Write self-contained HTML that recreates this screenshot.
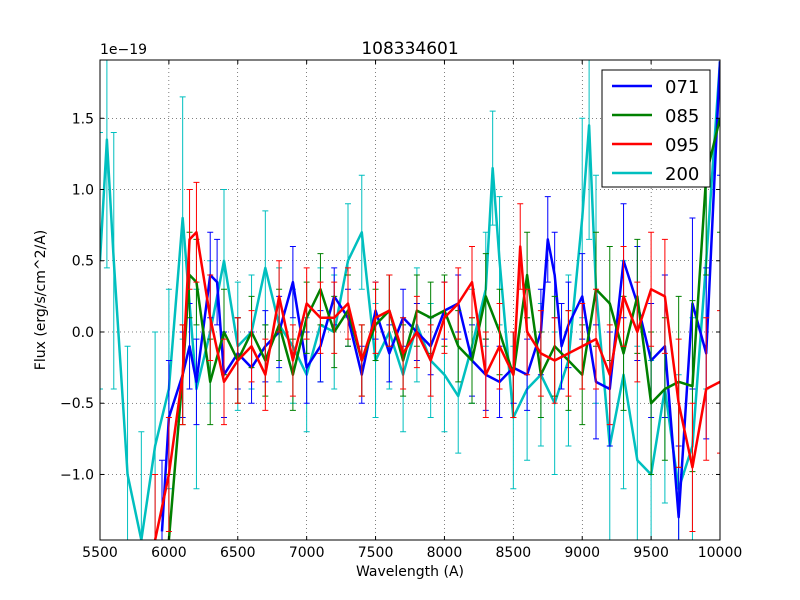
<!DOCTYPE html>
<html><head><meta charset="utf-8">
<style>
html,body{margin:0;padding:0;background:#fff;width:800px;height:600px;overflow:hidden;}
svg{display:block;font-family:"DejaVu Sans","Liberation Sans",sans-serif;}
</style></head>
<body>
<svg id="chart" width="800" height="600">
  <rect x="0" y="0" width="800" height="600" fill="#fff"/>
  <defs><clipPath id="clip"><rect x="100" y="60" width="620" height="480"/></clipPath></defs>
  <g id="grid"></g>
  <g id="series" clip-path="url(#clip)"></g>
  <rect x="100" y="60" width="620" height="480" fill="none" stroke="#000" stroke-width="1"/>
  <g id="ticks"></g>
  <text x="410" y="54" font-size="17" text-anchor="middle">108334601</text>
  <text x="100" y="54" font-size="14">1e−19</text>
  <text x="410" y="576" font-size="14" text-anchor="middle">Wavelength (A)</text>
  <text x="45" y="300" font-size="14" text-anchor="middle" transform="rotate(-90 45 300)">Flux (erg/s/cm^2/A)</text>
  <g id="legend">
    <rect x="602" y="70" width="108" height="117" fill="#fff" stroke="#000" stroke-width="1"/>
  </g>
</svg>
<script>
const xTicks=[5500,6000,6500,7000,7500,8000,8500,9000,9500,10000];
const yTicks=[-1.0,-0.5,0.0,0.5,1.0,1.5];
const yTickLabels=["−1.0","−0.5","0.0","0.5","1.0","1.5"];
const seriesNames=["071","085","095","200"];
const wl071=[5950,6000,6100,6150,6200,6300,6350,6400,6500,6600,6700,6800,6900,7000,7100,7200,7300,7400,7500,7600,7700,7800,7900,8000,8100,8200,8300,8400,8500,8600,8700,8750,8800,8850,8900,9000,9100,9200,9300,9400,9500,9600,9700,9800,9900,10000];
const flux071=[-1.4,-0.6,-0.3,-0.1,-0.35,0.4,0.35,-0.3,-0.15,-0.25,-0.1,0.0,0.35,-0.25,-0.1,0.25,0.1,-0.3,0.15,-0.15,0.1,0.0,-0.1,0.15,0.2,-0.2,-0.3,-0.35,-0.25,-0.3,0.0,0.65,0.4,-0.1,0.05,0.25,-0.35,-0.4,0.5,0.2,-0.2,-0.1,-1.3,0.2,-0.15,1.9];
const err071=[0.5,0.4,0.3,0.3,0.3,0.3,0.3,0.3,0.25,0.25,0.25,0.25,0.25,0.25,0.25,0.2,0.2,0.2,0.2,0.2,0.2,0.2,0.2,0.2,0.2,0.25,0.25,0.25,0.25,0.25,0.3,0.3,0.3,0.3,0.3,0.3,0.4,0.4,0.4,0.4,0.4,0.5,0.5,0.6,0.6,0.8];
const wl085=[6000,6100,6150,6200,6300,6400,6500,6600,6700,6800,6900,7000,7100,7200,7300,7400,7500,7600,7700,7800,7900,8000,8100,8200,8300,8400,8500,8600,8700,8800,8900,9000,9100,9200,9300,9400,9500,9600,9700,9800,9900,10000];
const flux085=[-1.5,-0.3,0.4,0.35,-0.35,0.0,-0.2,0.0,-0.2,0.05,-0.3,0.1,0.3,0.0,0.15,-0.2,0.05,0.15,-0.2,0.15,0.1,0.15,-0.1,-0.2,0.25,0.0,-0.3,0.4,-0.3,-0.1,-0.2,-0.3,0.3,0.2,-0.15,0.25,-0.5,-0.4,-0.35,-0.38,1.1,1.5];
const err085=[0.5,0.35,0.3,0.3,0.3,0.3,0.3,0.25,0.25,0.25,0.25,0.25,0.25,0.25,0.25,0.25,0.25,0.25,0.25,0.25,0.25,0.25,0.25,0.3,0.3,0.3,0.3,0.3,0.3,0.35,0.35,0.35,0.4,0.4,0.4,0.4,0.5,0.5,0.6,0.6,0.7,0.8];
const wl095=[5900,6000,6100,6150,6200,6300,6400,6500,6600,6700,6800,6900,7000,7100,7200,7300,7400,7500,7600,7700,7800,7900,8000,8100,8200,8300,8400,8500,8550,8600,8700,8800,8900,9000,9100,9200,9300,9400,9500,9600,9700,9800,9900,10000];
const flux095=[-1.5,-1.0,-0.3,0.65,0.7,0.1,-0.35,-0.2,-0.1,-0.3,0.25,-0.2,0.2,0.1,0.1,0.2,-0.2,0.1,0.15,-0.15,0.0,-0.2,0.1,0.2,0.35,-0.3,-0.1,-0.3,0.6,0.0,-0.15,-0.2,-0.15,-0.1,-0.05,-0.3,0.25,0.0,0.3,0.25,-0.5,-0.95,-0.4,-0.35];
const err095=[0.5,0.4,0.35,0.35,0.35,0.3,0.3,0.3,0.25,0.25,0.25,0.25,0.25,0.25,0.25,0.25,0.25,0.25,0.25,0.25,0.25,0.25,0.25,0.25,0.25,0.3,0.3,0.3,0.3,0.3,0.3,0.3,0.3,0.3,0.35,0.35,0.35,0.35,0.4,0.4,0.45,0.45,0.5,0.5];
const wl200=[5500,5550,5600,5700,5800,5900,6000,6100,6200,6300,6400,6500,6600,6700,6800,6900,7000,7100,7200,7300,7400,7500,7600,7700,7800,7900,8000,8100,8200,8300,8350,8400,8500,8600,8700,8800,8900,9000,9050,9100,9200,9300,9400,9500,9600,9700,9800,9900,10000];
const flux200=[0.5,1.35,0.5,-1.0,-1.6,-0.8,-0.4,0.8,-0.4,0.0,0.5,-0.1,0.0,0.45,0.05,-0.1,-0.3,0.05,0.0,0.5,0.7,-0.2,0.0,-0.3,0.05,-0.2,-0.3,-0.45,-0.1,0.3,1.15,0.5,-0.6,-0.4,-0.3,-0.5,-0.2,0.8,1.45,0.3,-0.8,-0.3,-0.9,-1.0,-0.4,-1.1,-0.8,0.5,1.9];
const err200=[0.9,0.9,0.9,0.9,0.9,0.8,0.7,0.85,0.7,0.5,0.5,0.45,0.4,0.4,0.4,0.4,0.4,0.4,0.4,0.4,0.4,0.4,0.4,0.4,0.4,0.4,0.4,0.4,0.4,0.4,0.4,0.45,0.5,0.5,0.5,0.5,0.6,0.7,0.8,0.8,0.8,0.8,0.8,0.8,0.8,0.8,0.9,0.9,0.9];
const colors=["#0000ff","#008000","#ff0000","#00bfbf"];
const allWl=[wl071,wl085,wl095,wl200], allFlux=[flux071,flux085,flux095,flux200], allErr=[err071,err085,err095,err200];

const NS="http://www.w3.org/2000/svg";
const X0=100,X1=720,Y0=60,Y1=540,XMIN=5500,XMAX=10000,YMIN=-1.46,YMAX=1.909;
function xs(v){return X0+(v-XMIN)/(XMAX-XMIN)*(X1-X0);}
function ys(v){return Y1-(v-YMIN)/(YMAX-YMIN)*(Y1-Y0);}
function cy(y){return Math.max(Y0,Math.min(Y1,y));}
function mk(tag,attrs,parent){const e=document.createElementNS(NS,tag);for(const k in attrs)e.setAttribute(k,attrs[k]);parent.appendChild(e);return e;}

const grid=document.getElementById('grid'), ticks=document.getElementById('ticks');
xTicks.forEach((t,i)=>{
  const x=xs(t);
  const g=mk('line',{x1:x,x2:x,y1:Y0,y2:Y1,stroke:'#000','stroke-width':0.5,'stroke-dasharray':'1,3'},grid);
  
  
  mk('line',{x1:x,x2:x,y1:Y1,y2:Y1-4,stroke:'#000'},ticks);
  mk('line',{x1:x,x2:x,y1:Y0,y2:Y0+4,stroke:'#000'},ticks);
  const tx=mk('text',{x:x,y:Y1+17,'font-size':14,'text-anchor':'middle'},ticks);
  tx.textContent=t;
  
  
});
yTicks.forEach((t,i)=>{
  const y=ys(t);
  const g=mk('line',{x1:X0,x2:X1,y1:y,y2:y,stroke:'#000','stroke-width':0.5,'stroke-dasharray':'1,3'},grid);
  
  
  mk('line',{x1:X0,x2:X0+4,y1:y,y2:y,stroke:'#000'},ticks);
  mk('line',{x1:X1,x2:X1-4,y1:y,y2:y,stroke:'#000'},ticks);
  const tx=mk('text',{x:X0-6,y:y+5,'font-size':14,'text-anchor':'end'},ticks);
  tx.textContent=yTickLabels[i];
  
  
});

const ser=document.getElementById('series');
const order=[3,0,1,2];
order.forEach(s=>{
  const g=mk('g',{},ser);
  
  
  const wl=allWl[s],fl=allFlux[s],er=allErr[s],c=colors[s];
  for(let i=0;i<wl.length;i++){
    const x=xs(wl[i]),ya0=ys(fl[i]+er[i]),yb0=ys(fl[i]-er[i]);
    const ya=cy(ya0),yb=cy(yb0);
    if(ya>=yb) continue;
    let d=`M${x},${ya}V${yb}`;
    if(ya0>=Y0) d+=`M${x-3},${ya}H${x+3}`;
    if(yb0<=Y1) d+=`M${x-3},${yb}H${x+3}`;
    const eb=mk('path',{d:d,stroke:c,'stroke-width':1,fill:'none'},g);
    
    
  }
  const d=wl.map((w,i)=>(i?'L':'M')+xs(w)+','+cy(ys(fl[i]))).join('');
  const ln=mk('path',{d:d,stroke:c,'stroke-width':2.5,fill:'none','stroke-linejoin':'round'},g);
  
  
});

const lg=document.getElementById('legend');
seriesNames.forEach((n,i)=>{
  const y=86+i*29;
  const l=mk('line',{x1:612,x2:652,y1:y,y2:y,stroke:colors[i],'stroke-width':2.5},lg);
  
  
  const t=mk('text',{x:665,y:y+7,'font-size':18},lg);
  t.textContent=n;
  
  
});
</script>
</body></html>
